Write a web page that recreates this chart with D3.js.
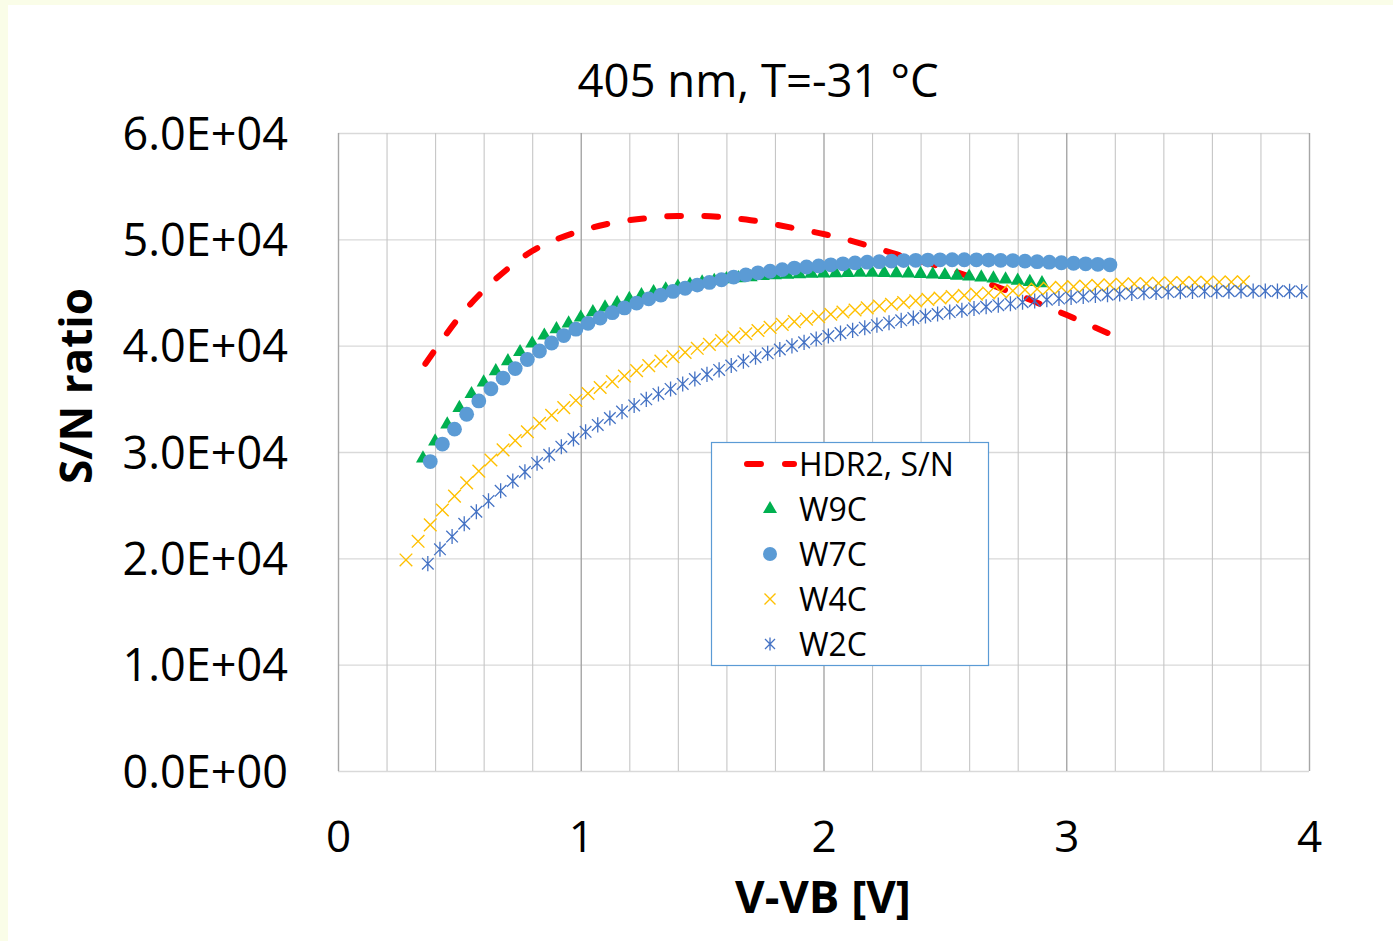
<!DOCTYPE html>
<html>
<head>
<meta charset="utf-8">
<script src="https://cdn.jsdelivr.net/npm/d3@7"></script>
<style>
  html, body { margin: 0; padding: 0; background: #ffffff; }
  svg { display: block; }
  text { font-family: "Open Sans", "Noto Sans", sans-serif; }
</style>
</head>
<body>
<svg id="chart" width="1393" height="941"></svg>
<script>
// ---------- DATA ----------
const chartTitle = "405 nm, T=-31 °C";
const xTitle = "V-VB [V]";
const yTitle = "S/N ratio";
const xTicks = [0, 1, 2, 3, 4];
const xTickLabels = ["0", "1", "2", "3", "4"];
const yTicks = [0, 10000, 20000, 30000, 40000, 50000, 60000];
const yTickLabels = ["0.0E+00", "1.0E+04", "2.0E+04", "3.0E+04", "4.0E+04", "5.0E+04", "6.0E+04"];
const seriesNames = ["HDR2, S/N", "W9C", "W7C", "W4C", "W2C"];

const hdrV  = [0.36,0.40,0.50,0.60,0.70,0.80,0.90,1.00,1.10,1.20,1.30,1.40,1.50,1.60,1.70,1.80,1.90,2.00,2.10,2.20,2.30,2.40,2.50,2.60,2.70,2.80,2.90,3.00,3.10,3.17];
const hdrSN = [38300,39600,42700,45200,47250,48900,50000,50800,51400,51800,52050,52200,52200,52050,51800,51400,50950,50500,49950,49300,48600,47950,47300,46500,45650,44800,43850,42900,41900,41200];

const w9cV  = [0.35,0.40,0.45,0.50,0.55,0.60,0.65,0.70,0.75,0.80,0.85,0.90,0.95,1.00,1.05,1.10,1.15,1.20,1.25,1.30,1.35,1.40,1.45,1.50,1.55,1.60,1.65,1.70,1.75,1.80,1.85,1.90,1.95,2.00,2.05,2.10,2.15,2.20,2.25,2.30,2.35,2.40,2.45,2.50,2.55,2.60,2.65,2.70,2.75,2.80,2.85,2.90];
const w9cSN = [29400,31000,32600,34150,35450,36550,37600,38550,39400,40200,40950,41550,42100,42650,43150,43600,44000,44400,44750,45050,45300,45550,45750,45950,46100,46250,46350,46450,46550,46620,46680,46730,46770,46800,46820,46840,46850,46850,46840,46820,46790,46750,46700,46640,46570,46500,46420,46330,46230,46120,46000,45880];

const w7cV  = [0.38,0.43,0.48,0.53,0.58,0.63,0.68,0.73,0.78,0.83,0.88,0.93,0.98,1.03,1.08,1.13,1.18,1.23,1.28,1.33,1.38,1.43,1.48,1.53,1.58,1.63,1.68,1.73,1.78,1.83,1.88,1.93,1.98,2.03,2.08,2.13,2.18,2.23,2.28,2.33,2.38,2.43,2.48,2.53,2.58,2.63,2.68,2.73,2.78,2.83,2.88,2.93,2.98,3.03,3.08,3.13,3.18];
const w7cSN = [29100,30750,32150,33550,34800,35950,36950,37850,38700,39500,40250,40950,41550,42100,42600,43100,43550,44000,44400,44750,45100,45400,45700,45950,46200,46450,46650,46850,47000,47150,47300,47400,47500,47600,47700,47780,47850,47900,47950,48000,48030,48050,48070,48080,48080,48070,48050,48020,48000,47950,47900,47850,47800,47750,47700,47650,47600];

const w4cV  = [0.28,0.33,0.38,0.43,0.48,0.53,0.58,0.63,0.68,0.73,0.78,0.83,0.88,0.93,0.98,1.03,1.08,1.13,1.18,1.23,1.28,1.33,1.38,1.43,1.48,1.53,1.58,1.63,1.68,1.73,1.78,1.83,1.88,1.93,1.98,2.03,2.08,2.13,2.18,2.23,2.28,2.33,2.38,2.43,2.48,2.53,2.58,2.63,2.68,2.73,2.78,2.83,2.88,2.93,2.98,3.03,3.08,3.13,3.18,3.23,3.28,3.33,3.38,3.43,3.48,3.53,3.58,3.63,3.68,3.73];
const w4cSN = [19850,21600,23150,24550,25850,27100,28200,29250,30200,31070,31900,32700,33450,34170,34850,35500,36070,36620,37150,37650,38120,38550,38970,39370,39750,40120,40470,40800,41120,41420,41720,42000,42260,42500,42730,42950,43160,43360,43550,43730,43900,44060,44210,44350,44480,44610,44730,44850,44960,45060,45160,45250,45330,45410,45480,45550,45610,45670,45720,45770,45810,45850,45880,45910,45930,45950,45970,45980,45990,46000];

const w2cV  = [0.37,0.42,0.47,0.52,0.57,0.62,0.67,0.72,0.77,0.82,0.87,0.92,0.97,1.02,1.07,1.12,1.17,1.22,1.27,1.32,1.37,1.42,1.47,1.52,1.57,1.62,1.67,1.72,1.77,1.82,1.87,1.92,1.97,2.02,2.07,2.12,2.17,2.22,2.27,2.32,2.37,2.42,2.47,2.52,2.57,2.62,2.67,2.72,2.77,2.82,2.87,2.92,2.97,3.02,3.07,3.12,3.17,3.22,3.27,3.32,3.37,3.42,3.47,3.52,3.57,3.62,3.67,3.72,3.77,3.82,3.87,3.92,3.97];
const w2cSN = [19500,20850,22050,23250,24380,25400,26350,27270,28130,28950,29730,30500,31220,31900,32550,33200,33800,34380,34950,35460,35930,36400,36860,37300,37720,38130,38530,38920,39280,39640,39980,40310,40620,40910,41180,41440,41690,41930,42160,42380,42590,42790,42980,43160,43330,43500,43660,43810,43950,44080,44200,44320,44430,44530,44620,44710,44790,44860,44920,44970,45010,45040,45070,45090,45110,45120,45130,45140,45140,45140,45130,45120,45100];

// ---------- LAYOUT ----------
const svg = d3.select("#chart");
const W = 1393, H = 941;
const plot = { left: 338, right: 1309, top: 133, bottom: 771 };

const x = d3.scaleLinear().domain([0, 4]).range([plot.left, plot.right]);
const y = d3.scaleLinear().domain([0, 60000]).range([plot.bottom, plot.top]);

// background with faint yellow strips at top and left
svg.append("rect").attr("x", 0).attr("y", 0).attr("width", W).attr("height", H).attr("fill", "#fafde8");
svg.append("rect").attr("x", 8).attr("y", 5).attr("width", W - 8).attr("height", H - 5).attr("fill", "#ffffff");

// ---------- GRID ----------
const grid = svg.append("g");
const yGrid = d3.axisLeft(y).tickValues(yTicks).tickSize(-(plot.right - plot.left)).tickFormat("");
grid.append("g").attr("transform", `translate(${plot.left},0)`).call(yGrid)
  .call(g => g.select(".domain").remove())
  .call(g => g.selectAll("line").attr("stroke", "#d9d9d9").attr("stroke-width", 1.4));

const xMinor = x.ticks(20);
const xGrid = d3.axisBottom(x).tickValues(xMinor).tickSize(-(plot.bottom - plot.top)).tickFormat("");
grid.append("g").attr("transform", `translate(0,${plot.bottom})`).call(xGrid)
  .call(g => g.select(".domain").remove())
  .call(g => g.selectAll("line")
    .attr("stroke", d => (Math.abs(d - Math.round(d)) < 1e-9 ? "#a6a6a6" : "#c6c6c6"))
    .attr("stroke-width", d => (Math.abs(d - Math.round(d)) < 1e-9 ? 1.4 : 1.1)));

// ---------- AXES LABELS ----------
const yAxis = d3.axisLeft(y).tickValues(yTicks).tickSize(0).tickPadding(0)
  .tickFormat((d, i) => yTickLabels[i]);
svg.append("g").attr("transform", `translate(288,0)`).call(yAxis)
  .call(g => g.select(".domain").remove())
  .call(g => g.selectAll("text").attr("font-family", "'Open Sans', sans-serif")
    .attr("font-size", 45).attr("fill", "#000").attr("dy", "0.36em").attr("x", 0));

const xAxis = d3.axisBottom(x).tickValues(xTicks).tickSize(0).tickPadding(0)
  .tickFormat((d, i) => xTickLabels[i]);
svg.append("g").attr("transform", `translate(0,${plot.bottom})`).call(xAxis)
  .call(g => g.select(".domain").remove())
  .call(g => g.selectAll("text").attr("font-family", "'Open Sans', sans-serif")
    .attr("font-size", 44).attr("fill", "#000").attr("dy", 0).attr("y", 81));

// titles
svg.append("text").attr("x", 758).attr("y", 97).attr("text-anchor", "middle")
  .attr("font-size", 45.5).attr("fill", "#000").text(chartTitle);
svg.append("text").attr("x", 823).attr("y", 913).attr("text-anchor", "middle")
  .attr("font-size", 45.5).attr("font-weight", "bold").attr("fill", "#000").text(xTitle);
svg.append("text").attr("transform", "translate(92,386) rotate(-90)").attr("text-anchor", "middle")
  .attr("font-size", 44).attr("font-weight", "bold").attr("fill", "#000").text(yTitle);

// ---------- SERIES ----------
const colors = { hdr: "#ff0000", w9c: "#00b050", w7c: "#5b9bd5", w4c: "#ffc000", w2c: "#4472c4" };
const zip = (a, b) => a.map((v, i) => [v, b[i]]);

const line = d3.line().x(d => x(d[0])).y(d => y(d[1])).curve(d3.curveMonotoneX);
const hdrPath = svg.append("path").datum(zip(hdrV, hdrSN)).attr("d", line)
  .attr("fill", "none").attr("stroke", colors.hdr).attr("stroke-width", 6)
  .attr("stroke-linecap", "round");
// fit the dash pattern so that the line starts and ends with a dash
{
  const L = hdrPath.node().getTotalLength();
  const dashR = 14 / 38;
  const n = Math.round((L - 14) / 38);
  const p = L / (n + dashR);
  hdrPath.attr("stroke-dasharray", `${(p * dashR).toFixed(2)} ${(p * (1 - dashR)).toFixed(2)}`);
}

const triangle = d3.symbol().type(d3.symbolTriangle).size(85);
svg.append("g").selectAll("path").data(zip(w9cV, w9cSN)).join("path")
  .attr("transform", d => `translate(${x(d[0])},${y(d[1])})`)
  .attr("d", triangle).attr("fill", colors.w9c);

svg.append("g").selectAll("circle").data(zip(w7cV, w7cSN)).join("circle")
  .attr("cx", d => x(d[0])).attr("cy", d => y(d[1])).attr("r", 7.4).attr("fill", colors.w7c);

const xPath = s => `M${-s},${-s}L${s},${s}M${-s},${s}L${s},${-s}`;
const astPath = s => `M${-s},${-s}L${s},${s}M${-s},${s}L${s},${-s}M0,${-s * 1.3}L0,${s * 1.3}`;

svg.append("g").selectAll("path").data(zip(w4cV, w4cSN)).join("path")
  .attr("transform", d => `translate(${x(d[0])},${y(d[1])})`)
  .attr("d", xPath(6.3)).attr("fill", "none").attr("stroke", colors.w4c).attr("stroke-width", 1.4);

svg.append("g").selectAll("path").data(zip(w2cV, w2cSN)).join("path")
  .attr("transform", d => `translate(${x(d[0])},${y(d[1])})`)
  .attr("d", astPath(5.8)).attr("fill", "none").attr("stroke", colors.w2c).attr("stroke-width", 1.3);

// ---------- LEGEND ----------
const lg = svg.append("g");
lg.append("rect").attr("x", 711.5).attr("y", 442.5).attr("width", 277).attr("height", 223)
  .attr("fill", "#ffffff").attr("stroke", "#5b9bd5").attr("stroke-width", 1.2);
const rowY = [464, 509, 554, 599, 644];
const symX = 770;
lg.append("line").attr("x1", 747).attr("x2", 794).attr("y1", rowY[0]).attr("y2", rowY[0])
  .attr("stroke", colors.hdr).attr("stroke-width", 6).attr("stroke-linecap", "round").attr("stroke-dasharray", "14 24");
lg.append("path").attr("transform", `translate(${symX},${rowY[1]})`).attr("d", triangle).attr("fill", colors.w9c);
lg.append("circle").attr("cx", symX).attr("cy", rowY[2]).attr("r", 7).attr("fill", colors.w7c);
lg.append("path").attr("transform", `translate(${symX},${rowY[3]})`).attr("d", xPath(5.5))
  .attr("fill", "none").attr("stroke", colors.w4c).attr("stroke-width", 1.4);
lg.append("path").attr("transform", `translate(${symX},${rowY[4]})`).attr("d", astPath(5))
  .attr("fill", "none").attr("stroke", colors.w2c).attr("stroke-width", 1.3);
lg.selectAll("text.lbl").data(seriesNames).join("text").attr("class", "lbl")
  .attr("x", 799).attr("y", (d, i) => rowY[i]).attr("dy", "0.36em")
  .attr("font-size", 32).attr("fill", "#000").text(d => d);
</script>
</body>
</html>
